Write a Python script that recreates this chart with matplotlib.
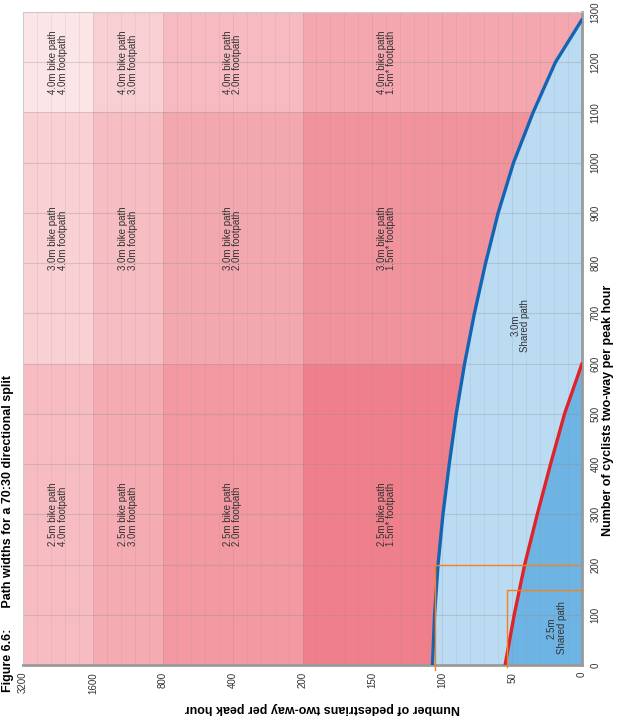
"""
Path widths for a 70:30 directional split.

Chart is drawn turned on its side (as in the source document):
pedestrians run right-to-left along the bottom, cyclists run up the right side.
"""
import numpy as np
import matplotlib
matplotlib.use("Agg")
import matplotlib.pyplot as plt

plt.rcParams['font.family'] = ['Liberation Sans', 'DejaVu Sans']

# axis ticks (pedestrian axis is categorical: equal spacing per tick)
PED_TICKS = [0, 50, 100, 150, 200, 400, 800, 1600, 3200]
CYC_TICKS = list(range(0, 1301, 100))

# cell edges of the separated-path zones
PED_BANDS = [0, 200, 800, 1600, 3200]
CYC_BANDS = [0, 600, 1100, 1300]
BIKE_WIDTHS = ["2.5m", "3.0m", "4.0m"]
FOOT_WIDTHS = ["1.5m*", "2.0m", "3.0m", "4.0m"]

# 3.0m shared path limit (blue) and 2.5m shared path limit (red)
BLUE_CYC = [0, 100, 200, 300, 400, 500, 600, 700, 800, 900, 1000, 1100, 1200, 1285]
BLUE_PED = [107, 105.5, 103, 99.5, 95, 90, 84, 77, 69, 60, 49, 35, 19, 0]
RED_CYC = [0, 100, 200, 300, 400, 500, 600]
RED_PED = [55, 48.5, 41, 32, 22.5, 12.5, 0]

# orange guide lines (pedestrians, cyclists)
GUIDE_1 = ([105, 105, 3], [-10, 200, 200])
GUIDE_2 = ([54, 54, 0], [-4, 150, 150])

# rows: cyclist bands (bottom -> top), cols: pedestrian bands (right -> left)
CELL_COLORS = [
    ["#EF808B", "#F299A1", "#F4ABB1", "#F7BCC1"],
    ["#F1939C", "#F3A8AF", "#F6BDC2", "#F9D0D4"],
    ["#F4A7AE", "#F6BAC0", "#F8D0D4", "#FCE5E7"],
]

idx = np.arange(len(PED_TICKS))


def fwd(v):
    return np.interp(v, PED_TICKS, idx)


def inv(p):
    return np.interp(p, idx, PED_TICKS)


fig = plt.figure(figsize=(6.18, 7.2), dpi=100)
ax = fig.add_axes([23 / 618, 1 - 665 / 720, 559 / 618, 653 / 720])
ax.set_xscale('function', functions=(fwd, inv))
ax.set_xlim(3200, 0)
ax.set_ylim(0, 1300)

# pink cells (full width, blue areas are painted over them)
for r in range(len(CYC_BANDS) - 1):
    for c in range(len(PED_BANDS) - 1):
        ax.fill_betweenx([CYC_BANDS[r], CYC_BANDS[r + 1]], PED_BANDS[c], PED_BANDS[c + 1],
                         color=CELL_COLORS[r][c], lw=0, zorder=1)

# shared path areas
ax.fill_betweenx(BLUE_CYC, 0, BLUE_PED, color="#BBDBF2", lw=0, zorder=1.1)
ax.fill_betweenx(RED_CYC, 0, RED_PED, color="#6DB4E4", lw=0, zorder=1.2)
ax.plot(BLUE_PED, BLUE_CYC, color="#1464B4", lw=2.4, zorder=3, solid_capstyle='round')
ax.plot(RED_PED, RED_CYC, color="#E02229", lw=2.4, zorder=3, solid_capstyle='round')

for gx, gy in (GUIDE_1, GUIDE_2):
    ax.plot(gx, gy, color="#F58220", lw=1.0, zorder=4, clip_on=False)

# grid
minor = inv(np.arange(0, len(PED_TICKS) - 1 + 1e-9, 0.2))
ax.set_xticks(PED_TICKS)
ax.set_xticks(minor, minor=True)
ax.set_yticks(CYC_TICKS)
ax.grid(True, which='major', axis='y', color='#8c8c8c', alpha=0.3, lw=0.8)
ax.grid(True, which='major', axis='x', color='#8c8c8c', alpha=0.22, lw=0.7)
ax.grid(True, which='minor', axis='x', color='#8c8c8c', alpha=0.16, lw=0.6)

# tick labels, turned with the chart
ax.set_xticklabels([str(t) for t in PED_TICKS], rotation=90, fontsize=7, color='#333333')
ax.yaxis.tick_right()
ax.set_yticklabels([str(t) for t in CYC_TICKS], rotation=90, fontsize=7,
                   color='#333333', va='center')
ax.tick_params(axis='both', which='both', length=0)
ax.tick_params(axis='x', pad=5)
ax.tick_params(axis='y', pad=6)

ax.set_xlabel("Number of pedestrians two-way per peak hour", fontsize=9,
              fontweight='bold', rotation=180)
ax.xaxis.set_label_coords(0.535, -0.056)
ax.yaxis.set_label_position('right')
ax.set_ylabel("Number of cyclists two-way per peak hour", fontsize=9,
              fontweight='bold', rotation=90)
ax.yaxis.set_label_coords(1.036, 0.39)

for side in ('bottom', 'right'):
    ax.spines[side].set_color('#9a9a9a')
    ax.spines[side].set_linewidth(2)
for side in ('top', 'left'):
    ax.spines[side].set_color('#cccccc')
    ax.spines[side].set_linewidth(0.8)

# cell labels (nearest column is centred on the part left of the shared paths)
for r, bike in enumerate(BIKE_WIDTHS):
    yc = (CYC_BANDS[r] + CYC_BANDS[r + 1]) / 2
    for c, foot in enumerate(FOOT_WIDTHS):
        lo = max(PED_BANDS[c], 80)
        xc = inv((fwd(lo) + fwd(PED_BANDS[c + 1])) / 2)
        ax.text(xc, yc, f"{bike} bike path\n{foot} footpath", rotation=90,
                ha='center', va='center', multialignment='left',
                fontsize=7, color='#333333', linespacing=0.95, zorder=5)

ax.text(44, 676, "3.0m\nShared path", rotation=90, ha='center', va='center',
        fontsize=7, color='#333333', linespacing=0.95, zorder=5)
ax.text(18, 74, "2.5m\nShared path", rotation=90, ha='center', va='center',
        fontsize=7, color='#333333', linespacing=0.95, zorder=5)

fig.text(0.013, 1 - 375 / 720, "Figure 6.6:      Path widths for a 70:30 directional split",
         rotation=90, ha='center', va='top', fontsize=9, fontweight='bold')

fig.savefig("out.png", dpi=100)
